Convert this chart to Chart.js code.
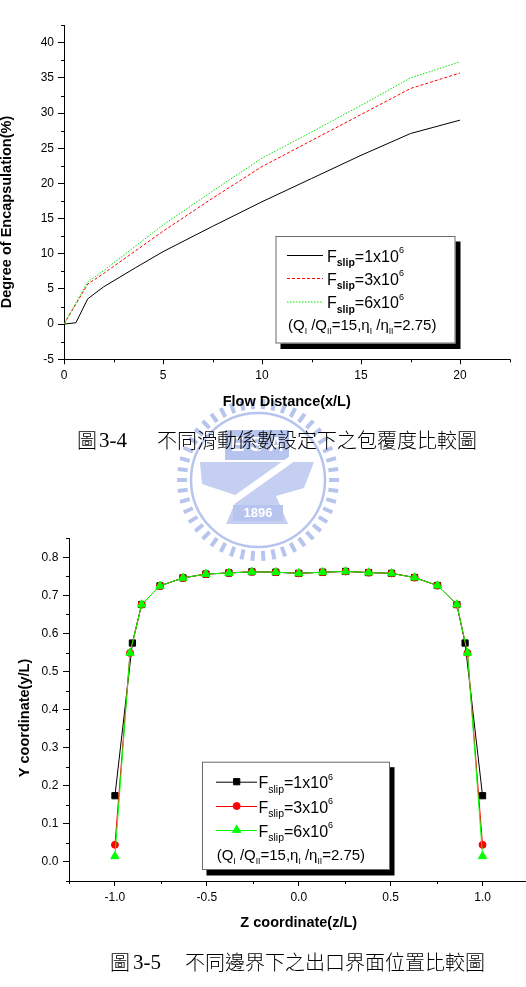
<!DOCTYPE html>
<html>
<head>
<meta charset="utf-8">
<script src="https://cdn.jsdelivr.net/npm/chart.js@4.4.0/dist/chart.umd.min.js"></script>
<style>
html, body { margin: 0; padding: 0; background: #fff; overflow: hidden; }
#wrap { position: relative; width: 526px; height: 987px; overflow: hidden; background: #fff; }
canvas { position: absolute; left: 0; }
.cap { position: absolute; font-family: "Noto Sans CJK TC"; font-weight: 300; font-size: 20px; line-height: 24px; color: #000; white-space: nowrap; }
.num { font-family: "Liberation Serif"; font-weight: 400; font-size: 21px; }
</style>
</head>
<body>
<div id="wrap">
  <canvas id="logo" width="526" height="987" style="top:0"></canvas>
  <canvas id="c1" width="526" height="415" style="top:0"></canvas>
  <canvas id="c2" width="540" height="440" style="top:500px"></canvas>
  <div class="cap" style="left:77px;top:428px">圖</div>
  <div class="cap num" style="left:99px;top:428px">3-4</div>
  <div class="cap" style="left:157px;top:428px">不同滑動係數設定下之包覆度比較圖</div>
  <div class="cap" style="left:110px;top:950px">圖</div>
  <div class="cap num" style="left:133px;top:950px">3-5</div>
  <div class="cap" style="left:185px;top:950px">不同邊界下之出口界面位置比較圖</div>
</div>
<script>
// Fig 3-4: degree of encapsulation vs flow distance
const flowXBlack = [0, 0.6, 1.2, 2, 3.6, 5, 7.5, 10, 12.5, 15, 17.5, 20];
const encBlack   = [0, 0.2, 3.6, 5.3, 8.0, 10.3, 13.9, 17.4, 20.7, 24.0, 27.1, 29.0];
const flowX      = [0, 1.2, 2, 5, 7.5, 10, 12.5, 15, 17.5, 20];
const encRed     = [0, 5.7, 7.2, 13.2, 17.9, 22.4, 26.1, 29.8, 33.5, 35.7];
const encGreen   = [0, 6.0, 7.6, 14.1, 18.9, 23.6, 27.3, 31.1, 35.0, 37.3];
const x1Ticks = [0, 5, 10, 15, 20];
const x1Minor = [2.5, 7.5, 12.5, 17.5, 22.5];
const y1Ticks = [-5, 0, 5, 10, 15, 20, 25, 30, 35, 40];
const y1Minor = [-2.5, 2.5, 7.5, 12.5, 17.5, 22.5, 27.5, 32.5, 37.5, 42.5];

// Fig 3-5: interface position at the outlet
const zBlack = [-1, -0.905, -0.855, -0.755, -0.63, -0.505, -0.38, -0.255, -0.125, 0, 0.13, 0.255, 0.38, 0.505, 0.63, 0.755, 0.86, 0.905, 1];
const zRG    = [-1, -0.918, -0.855, -0.755, -0.63, -0.505, -0.38, -0.255, -0.125, 0, 0.13, 0.255, 0.38, 0.505, 0.63, 0.755, 0.86, 0.918, 1];
const yBlack = [0.174, 0.575, 0.676, 0.725, 0.746, 0.756, 0.759, 0.762, 0.761, 0.758, 0.761, 0.763, 0.760, 0.758, 0.747, 0.726, 0.676, 0.575, 0.174];
const yRed   = [0.045, 0.549, 0.676, 0.725, 0.746, 0.756, 0.759, 0.762, 0.761, 0.758, 0.761, 0.763, 0.760, 0.758, 0.747, 0.726, 0.676, 0.549, 0.045];
const yGreen = [0.015, 0.549, 0.676, 0.725, 0.746, 0.756, 0.759, 0.762, 0.761, 0.758, 0.761, 0.763, 0.760, 0.758, 0.747, 0.726, 0.676, 0.549, 0.015];
const x2Ticks = [-1, -0.5, 0, 0.5, 1];
const x2Minor = [-1.25, -0.75, -0.25, 0.25, 0.75, 1.25];
const y2Ticks = [0, 0.1, 0.2, 0.3, 0.4, 0.5, 0.6, 0.7, 0.8];
const y2Minor = [-0.05, 0.05, 0.15, 0.25, 0.35, 0.45, 0.55, 0.65, 0.75, 0.85];

const slipCoef = ['1', '3', '6'];
const FONT = '"Liberation Sans", Arial, sans-serif';

function pts(xs, ys) { return xs.map((x, i) => ({ x: x, y: ys[i] })); }

function rich(ctx, x, y, segs) {
  segs.forEach(s => {
    ctx.font = (s.b ? 'bold ' : '') + s.f + 'px ' + FONT;
    ctx.fillText(s.t, x, y + (s.dy || 0));
    x += ctx.measureText(s.t).width;
  });
}

function marker(ctx, style, r, x, y, color) {
  ctx.save();
  ctx.setLineDash([]);
  ctx.fillStyle = color;
  ctx.strokeStyle = color;
  ctx.lineWidth = 1;
  ctx.beginPath();
  if (style === 'rect') {
    const s = r * Math.SQRT1_2;
    ctx.rect(x - s, y - s, 2 * s, 2 * s);
  } else if (style === 'circle') {
    ctx.arc(x, y, r, 0, Math.PI * 2);
  } else if (style === 'triangle') {
    ctx.moveTo(x, y - r);
    ctx.lineTo(x + r * 0.866, y + r * 0.5);
    ctx.lineTo(x - r * 0.866, y + r * 0.5);
    ctx.closePath();
  }
  ctx.fill();
  ctx.stroke();
  ctx.restore();
}

// Origin-style extras: minor ticks, rotated y title, boxed legend with shadow
const originPlugin = {
  id: 'origin',
  afterDraw(chart, args, o) {
    const ctx = chart.ctx;
    const a = chart.chartArea;
    const xs = chart.scales.x, ys = chart.scales.y;
    ctx.save();
    ctx.strokeStyle = '#000';
    ctx.lineWidth = 1;
    o.xMinor.forEach(v => {
      const px = Math.round(xs.getPixelForValue(v)) + 0.5;
      ctx.beginPath(); ctx.moveTo(px, a.bottom); ctx.lineTo(px, a.bottom + 3); ctx.stroke();
    });
    o.yMinor.forEach(v => {
      const py = Math.round(ys.getPixelForValue(v)) + 0.5;
      ctx.beginPath(); ctx.moveTo(a.left, py); ctx.lineTo(a.left - 3, py); ctx.stroke();
    });

    // y axis title
    ctx.fillStyle = '#000';
    ctx.font = 'bold 14.5px ' + FONT;
    ctx.textAlign = 'center';
    ctx.textBaseline = 'middle';
    ctx.translate(o.yTitle.x, o.yTitle.y);
    ctx.rotate(-Math.PI / 2);
    ctx.fillText(o.yTitle.text, 0, 0);
    ctx.setTransform(1, 0, 0, 1, 0, 0);

    // legend
    const L = o.legend;
    ctx.fillStyle = '#000';
    ctx.fillRect(L.x + L.sdx, L.y + L.sdy, L.w, L.h);
    ctx.fillStyle = '#fff';
    ctx.fillRect(L.x, L.y, L.w, L.h);
    ctx.strokeStyle = '#6a6a6a';
    ctx.strokeRect(L.x + 0.5, L.y + 0.5, L.w - 1, L.h - 1);
    ctx.textAlign = 'left';
    ctx.textBaseline = 'alphabetic';
    chart.data.datasets.forEach((ds, i) => {
      const ry = L.rowY[i];
      ctx.strokeStyle = ds.borderColor;
      ctx.lineWidth = 1;
      ctx.setLineDash(ds.borderDash || []);
      ctx.beginPath(); ctx.moveTo(L.lx0, ry + 0.5); ctx.lineTo(L.lx1, ry + 0.5); ctx.stroke();
      ctx.setLineDash([]);
      if (ds.pointRadius > 0) marker(ctx, ds.pointStyle, ds.pointRadius, L.mx, ry, ds.pointBackgroundColor);
      ctx.fillStyle = '#000';
      rich(ctx, L.tx, ry + 6.6, [
        { t: 'F', f: 16 },
        { t: 'slip', f: 10.5, b: L.subBold, dy: 4.6 },
        { t: '=' + slipCoef[i] + 'x10', f: 16 },
        { t: '6', f: 9, dy: -8.4 }
      ]);
    });
    ctx.fillStyle = '#000';
    rich(ctx, L.cx, L.cy, [
      { t: '(Q', f: 15 }, { t: 'I', f: 8.5, dy: 4 },
      { t: ' /Q', f: 15 }, { t: 'II', f: 8.5, dy: 4 },
      { t: '=15,\u03b7', f: 15 }, { t: 'I', f: 8.5, dy: 4 },
      { t: ' /\u03b7', f: 15 }, { t: 'II', f: 8.5, dy: 4 },
      { t: '=2.75)', f: 15 }
    ]);
    ctx.restore();
  }
};

function axis(min, max, ticks, size, width, height, tl, pad, title, fmt, tPad) {
  const s = {
    type: 'linear', min: min, max: max,
    afterBuildTicks: sc => { sc.ticks = ticks.map(v => ({ value: v })); },
    border: { display: true, color: '#000', width: 1 },
    grid: { drawOnChartArea: false, drawTicks: true, color: '#000', tickLength: tl },
    ticks: { color: '#000', font: { family: FONT, size: size }, padding: pad, autoSkip: false, maxRotation: 0, callback: fmt }
  };
  if (width) s.afterFit = sc => { sc.width = width; };
  if (height) s.afterFit = sc => { sc.height = height; };
  if (title) s.title = { display: true, text: title, color: '#000', font: { family: FONT, size: 14.5, weight: 'bold' }, padding: { top: 0, bottom: tPad } };
  return s;
}

new Chart(document.getElementById('c1'), {
  type: 'scatter',
  data: {
    datasets: [
      { data: pts(flowXBlack, encBlack), showLine: true, borderColor: '#000', borderWidth: 1, pointRadius: 0, order: 3 },
      { data: pts(flowX, encRed), showLine: true, borderColor: '#ff0000', borderWidth: 1, borderDash: [3, 2], pointRadius: 0, order: 2 },
      { data: pts(flowX, encGreen), showLine: true, borderColor: '#00e400', borderWidth: 1, borderDash: [1.5, 1.5], pointRadius: 0, order: 1 }
    ]
  },
  options: {
    responsive: false, animation: false, events: [],
    layout: { padding: { top: 25.2, right: 16.5, left: 0, bottom: 0 } },
    plugins: {
      legend: { display: false }, tooltip: { enabled: false },
      origin: {
        xMinor: x1Minor, yMinor: y1Minor,
        yTitle: { x: 7, y: 212, text: 'Degree of Encapsulation(%)' },
        legend: { x: 275.5, y: 236, w: 180, h: 107.5, sdx: 5, sdy: 5.5, rowY: [255, 278, 301.5], lx0: 287, lx1: 323, mx: 305, tx: 327, subBold: true, cx: 288, cy: 330 }
      }
    },
    scales: {
      x: axis(0, 22.5, x1Ticks, 12, 0, 55.7, 5, 4, 'Flow Distance(x/L)', v => String(v), 4.6),
      y: axis(-5, 42.5, y1Ticks, 12, 64, 0, 6, 4, null, v => String(v))
    }
  },
  plugins: [originPlugin]
});

new Chart(document.getElementById('c2'), {
  type: 'scatter',
  data: {
    datasets: [
      { data: pts(zBlack, yBlack), showLine: true, borderColor: '#000', borderWidth: 1, pointStyle: 'rect', pointRadius: 4.4, pointBackgroundColor: '#000', pointBorderColor: '#000', pointBorderWidth: 1, order: 3 },
      { data: pts(zRG, yRed), showLine: true, borderColor: '#ff0000', borderWidth: 1, pointStyle: 'circle', pointRadius: 3.5, pointBackgroundColor: '#ff0000', pointBorderColor: '#ff0000', pointBorderWidth: 1, order: 2 },
      { data: pts(zRG, yGreen), showLine: true, borderColor: '#00ff00', borderWidth: 1, pointStyle: 'triangle', pointRadius: 4.8, pointBackgroundColor: '#00ff00', pointBorderColor: '#00ff00', pointBorderWidth: 1, order: 1 }
    ]
  },
  options: {
    responsive: false, animation: false, events: [],
    layout: { padding: { top: 38.3, right: 11.5, left: 0, bottom: 0 } },
    plugins: {
      legend: { display: false }, tooltip: { enabled: false },
      origin: {
        xMinor: x2Minor, yMinor: y2Minor,
        yTitle: { x: 24.5, y: 218, text: 'Y coordinate(y/L)' },
        legend: { x: 202, y: 261.7, w: 188, h: 108.3, sdx: 4.5, sdy: 5.5, rowY: [281.7, 306, 330], lx0: 216, lx1: 257, mx: 236.7, tx: 258.5, subBold: false, cx: 216.7, cy: 360 }
      }
    },
    scales: {
      x: axis(-1.25, 1.25, x2Ticks, 12, 0, 59, 5, 4.5, 'Z coordinate(z/L)', v => v.toFixed(1), 8.6),
      y: axis(-0.05, 0.85, y2Ticks, 12, 69, 0, 6, 4.7, null, v => v.toFixed(1))
    }
  },
  plugins: [originPlugin]
});

// faint university watermark behind the figures
(function () {
  const g = document.getElementById('logo').getContext('2d');
  const cx = 258, cy = 480;
  const c = '#b7c4ee';
  g.strokeStyle = c;
  g.fillStyle = c;
  g.lineWidth = 4;
  for (let i = 0; i < 46; i++) {
    const t = i / 46 * Math.PI * 2;
    g.beginPath();
    g.moveTo(cx + Math.cos(t) * 71, cy + Math.sin(t) * 71);
    g.lineTo(cx + Math.cos(t) * 81, cy + Math.sin(t) * 81);
    g.stroke();
  }
  g.lineWidth = 2.5;
  g.beginPath(); g.arc(cx, cy, 67, 0, Math.PI * 2); g.stroke();
  g.fillStyle = '#c4cff2';
  g.beginPath();
  g.moveTo(cx - 58, cy - 18); g.lineTo(cx + 56, cy - 18); g.lineTo(cx + 46, cy + 8);
  g.lineTo(cx + 18, cy + 16); g.lineTo(cx + 30, cy + 44); g.lineTo(cx - 32, cy + 44);
  g.lineTo(cx - 20, cy + 16); g.lineTo(cx - 56, cy + 4); g.closePath(); g.fill();
  g.fillStyle = c;
  g.fillRect(cx - 33, cy - 50, 64, 30);
  g.strokeStyle = '#fff';
  g.lineWidth = 7;
  g.beginPath(); g.moveTo(cx - 52, cy + 40); g.lineTo(cx + 52, cy - 34); g.stroke();
  g.fillStyle = '#fff';
  g.font = 'bold 20px ' + FONT;
  g.textAlign = 'center';
  g.textBaseline = 'middle';
  g.fillText('E S A', cx - 1, cy - 35);
  g.fillStyle = c;
  g.fillRect(cx - 25, cy + 25, 50, 16);
  g.fillStyle = '#fff';
  g.font = 'bold 13px ' + FONT;
  g.fillText('1896', cx, cy + 33);
})();
</script>
</body>
</html>
